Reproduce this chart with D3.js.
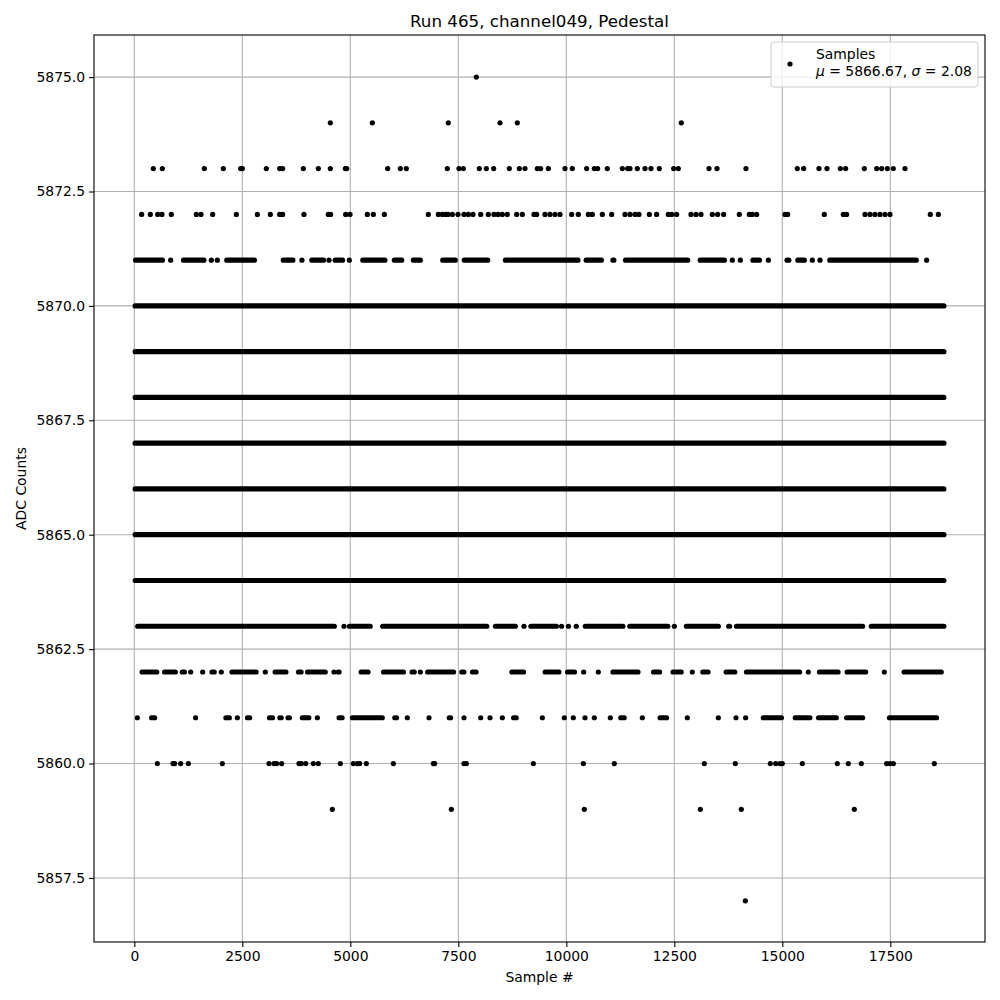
<!DOCTYPE html>
<html>
<head>
<meta charset="utf-8">
<script src="https://cdn.jsdelivr.net/npm/d3@7"></script>
<style>
  body { margin: 0; background: #fff; }
  text { font-family: "DejaVu Sans", sans-serif; }
</style>
</head>
<body>
<div id="chart"></div>
<script>
/* global d3 */

// Samples, one array per ADC level.
// Each entry is [firstSample, lastSample]; a lone sample is [x, x].
const lvl5875 = [[7917, 7917]]
const lvl5874 = [[4538, 4538], [5510, 5510], [7269, 7269], [8465, 8465], [8866, 8866], [12662, 12662]]
const lvl5873 = [440, 649, 1621, 2061, 2462, 2501, 3056, 3365, 3434, 3913, 4260, 4538, 4885, 4916,
  5865, 6158, 6297, 7246, 7516, 7616, 7987, 8149, 8318, 8681, 8913, 9044, 9329, 9406, 9584, 9969,
  10139, 10471, 10648, 10726, 10949, 11297, 11420, 11474, 11644, 11821, 11960, 12153, 12485, 12593,
  13303, 13488, 14159, 15347, 15494, 15849, 16034, 16343, 16466, 16898, 17184, 17300, 17431, 17570,
  17840].map(d => [d, d])
const lvl5872 = [170, 371, 541, 641, 857, 1436, 1544, 1814, 2362, 2848, 3149, 3365, 3434, 3928, 4491,
  4545, 4893, 4993, 5394, 5533, 5788, 6806, 7038, 7130, 7207, 7261, 7362, 7493, 7632, 7732, 7840,
  8018, 8195, 8326, 8419, 8519, 8635, 8851, 8982, 9252, 9314, 9506, 9622, 9738, 9854, 10124, 10278,
  10510, 10602, 10834, 11050, 11358, 11474, 11590, 11682, 11922, 12091, 12361, 12439, 12554, 12886,
  13002, 13118, 13380, 13503, 13642, 14005, 14236, 14306, 14406, 15062, 15124, 15972, 16412, 16489,
  16914, 17030, 17145, 17261, 17377, 17493, 18426, 18612].map(d => [d, d])
const lvl5871 = [[30, 650], [842, 842], [1140, 1610], [1783, 1783], [1922, 1922], [2140, 2780],
  [3450, 3670], [3880, 3880], [4110, 4380], [4507, 4507], [4650, 4820], [4977, 4977], [5290, 5800],
  [6020, 6190], [6460, 6620], [7140, 7430], [7640, 8180], [8590, 10270], [10460, 10810], [11080, 11100],
  [11370, 12810], [13100, 13660], [13843, 13843], [14028, 14028], [14320, 14470], [14677, 14677],
  [15110, 15150], [15360, 15510], [15695, 15695], [15872, 15872], [16100, 18100], [18341, 18341]]
const lvl5870 = [[20, 18740]]
const lvl5869 = [[20, 18740]]
const lvl5868 = [[20, 18740]]
const lvl5867 = [[20, 18740]]
const lvl5866 = [[20, 18740]]
const lvl5865 = [[20, 18740]]
const lvl5864 = [[20, 18740]]
const lvl5863 = [[80, 4630], [4854, 4854], [4980, 5460], [5750, 8160], [8360, 8820], [9020, 9020],
  [9180, 9770], [9890, 9890], [10050, 10050], [10230, 10230], [10440, 11310], [11470, 12350],
  [12500, 12500], [12780, 13520], [13760, 13780], [13940, 16860], [17060, 18740]]
const lvl5862 = [[180, 520], [700, 950], [1110, 1160], [1305, 1305], [1582, 1582], [1800, 1850],
  [2014, 2014], [2260, 2820], [3033, 3033], [3260, 3510], [3800, 3860], [4010, 4420], [4623, 4623],
  [4720, 4740], [5250, 5410], [5770, 6230], [6430, 6480], [6621, 6621], [6790, 7390], [7580, 7630],
  [7830, 7910], [8740, 9010], [9510, 9830], [10030, 10190], [10402, 10402], [10741, 10741],
  [11080, 11660], [12020, 12160], [12470, 12660], [12917, 12917], [13160, 13280], [13700, 13900],
  [14170, 15400], [15602, 15602], [15860, 16290], [16500, 16930], [17361, 17361], [17820, 18680]]
const lvl5861 = [[70, 70], [400, 470], [1420, 1420], [2120, 2200], [2385, 2385], [2620, 2670],
  [3130, 3200], [3370, 3400], [3560, 3590], [3890, 4040], [4237, 4237], [4740, 4810], [5050, 5740],
  [6030, 6070], [6320, 6320], [6822, 6822], [7290, 7320], [7632, 7632], [8018, 8018], [8234, 8234],
  [8519, 8519], [8780, 8840], [9445, 9445], [9954, 9954], [10162, 10162], [10432, 10432],
  [10648, 10648], [11019, 11019], [11260, 11340], [11760, 11760], [12170, 12320], [12801, 12801],
  [13519, 13519], [13928, 13928], [14151, 14151], [14560, 14980], [15300, 15640], [15840, 16250],
  [16490, 16860], [17480, 18570]]
const lvl5860 = [533, 896, 934, 1073, 1251, 2038, 3118, 3234, 3295, 3411, 3812, 3866, 3967, 4144,
  4260, 4769, 5070, 5163, 5217, 5371, 5996, 6922, 6953, 7632, 7686, 9237, 10394, 11111, 13195,
  13912, 14722, 14846, 14946, 15000, 15463, 16273, 16528, 16829, 17415, 17493, 17570, 18519].map(d => [d, d])
const lvl5859 = [4584, 7339, 10417, 13102, 14051, 16667].map(d => [d, d])
const lvl5857 = [[14144, 14144]]

const xTicks = [0, 2500, 5000, 7500, 10000, 12500, 15000, 17500]
const yTicks = [5857.5, 5860, 5862.5, 5865, 5867.5, 5870, 5872.5, 5875]

const rows = [
  [5875, lvl5875], [5874, lvl5874], [5873, lvl5873], [5872, lvl5872], [5871, lvl5871],
  [5870, lvl5870], [5869, lvl5869], [5868, lvl5868], [5867, lvl5867], [5866, lvl5866],
  [5865, lvl5865], [5864, lvl5864], [5863, lvl5863], [5862, lvl5862], [5861, lvl5861],
  [5860, lvl5860], [5859, lvl5859], [5857, lvl5857]
]
const spans = rows.flatMap(([adc, list]) => list.map(s => ({ adc, x0: s[0], x1: s[1] })))

// Canvas
const width = 1000,
  height = 1000,
  plotL = 94, plotR = 985, plotT = 35, plotB = 942,
  dotR = 2.6

let svg = d3.select('#chart')
  .append('svg')
  .attr('width', width)
  .attr('height', height)
  .style('background', '#fff')

let x = d3.scaleLinear()
  .domain([-933, 19692])
  .range([plotL, plotR])

let y = d3.scaleLinear()
  .domain([5856.1, 5875.92])
  .range([plotB, plotT])

// grid
svg.append('g')
  .selectAll('line')
  .data(xTicks)
  .enter()
  .append('line')
  .attr('x1', d => x(d)).attr('x2', d => x(d))
  .attr('y1', plotT).attr('y2', plotB)
  .attr('stroke', '#b0b0b0')
  .attr('stroke-width', 1.1)

svg.append('g')
  .selectAll('line')
  .data(yTicks)
  .enter()
  .append('line')
  .attr('x1', plotL).attr('x2', plotR)
  .attr('y1', d => y(d)).attr('y2', d => y(d))
  .attr('stroke', '#b0b0b0')
  .attr('stroke-width', 1.1)

// samples
let marks = svg.append('g')

marks.selectAll('line')
  .data(spans.filter(d => d.x1 > d.x0))
  .enter()
  .append('line')
  .attr('x1', d => x(d.x0)).attr('x2', d => x(d.x1))
  .attr('y1', d => y(d.adc)).attr('y2', d => y(d.adc))
  .attr('stroke', '#000')
  .attr('stroke-width', dotR * 2)
  .attr('stroke-linecap', 'round')

marks.selectAll('circle')
  .data(spans.filter(d => d.x1 === d.x0))
  .enter()
  .append('circle')
  .attr('cx', d => x(d.x0))
  .attr('cy', d => y(d.adc))
  .attr('r', dotR)
  .attr('fill', '#000')

// axes
let xAxis = svg.append('g')
  .attr('transform', `translate(0, ${plotB})`)
  .call(d3.axisBottom(x).tickValues(xTicks).tickFormat(d3.format('d')).tickSize(4.9).tickPadding(4))

let yAxis = svg.append('g')
  .attr('transform', `translate(${plotL}, 0)`)
  .call(d3.axisLeft(y).tickValues(yTicks).tickFormat(d3.format('.1f')).tickSize(4.9).tickPadding(4))

for (let ax of [xAxis, yAxis]) {
  ax.select('.domain').remove()
  ax.selectAll('.tick line').attr('stroke', '#000').attr('stroke-width', 1.1)
  ax.selectAll('.tick text')
    .attr('fill', '#000')
    .style('font-family', '"DejaVu Sans", sans-serif')
    .style('font-size', '13.9px')
}

svg.append('rect')
  .attr('x', plotL).attr('y', plotT)
  .attr('width', plotR - plotL).attr('height', plotB - plotT)
  .attr('fill', 'none')
  .attr('stroke', '#000')
  .attr('stroke-width', 1.1)

// labels
svg.append('text')
  .attr('x', (plotL + plotR) / 2).attr('y', 27)
  .attr('text-anchor', 'middle')
  .style('font-size', '16.7px')
  .text('Run 465, channel049, Pedestal')

svg.append('text')
  .attr('x', (plotL + plotR) / 2).attr('y', 982)
  .attr('text-anchor', 'middle')
  .style('font-size', '13.9px')
  .text('Sample #')

svg.append('text')
  .attr('transform', `translate(26, ${(plotT + plotB) / 2}) rotate(-90)`)
  .attr('text-anchor', 'middle')
  .style('font-size', '13.9px')
  .text('ADC Counts')

// legend
let legend = svg.append('g')

legend.append('rect')
  .attr('x', 771).attr('y', 42)
  .attr('width', 207).attr('height', 45)
  .attr('rx', 3)
  .attr('fill', '#fff').attr('fill-opacity', 0.8)
  .attr('stroke', '#cccccc')

legend.append('circle')
  .attr('cx', 790).attr('cy', 64)
  .attr('r', dotR)
  .attr('fill', '#000')

legend.append('text')
  .attr('x', 816).attr('y', 59)
  .style('font-size', '13.9px')
  .text('Samples')

let stats = legend.append('text')
  .attr('x', 816).attr('y', 76)
  .style('font-size', '13.9px')
stats.append('tspan').style('font-style', 'italic').text('μ')
stats.append('tspan').text(' = 5866.67, ')
stats.append('tspan').style('font-style', 'italic').text('σ')
stats.append('tspan').text(' = 2.08')
</script>
</body>
</html>
